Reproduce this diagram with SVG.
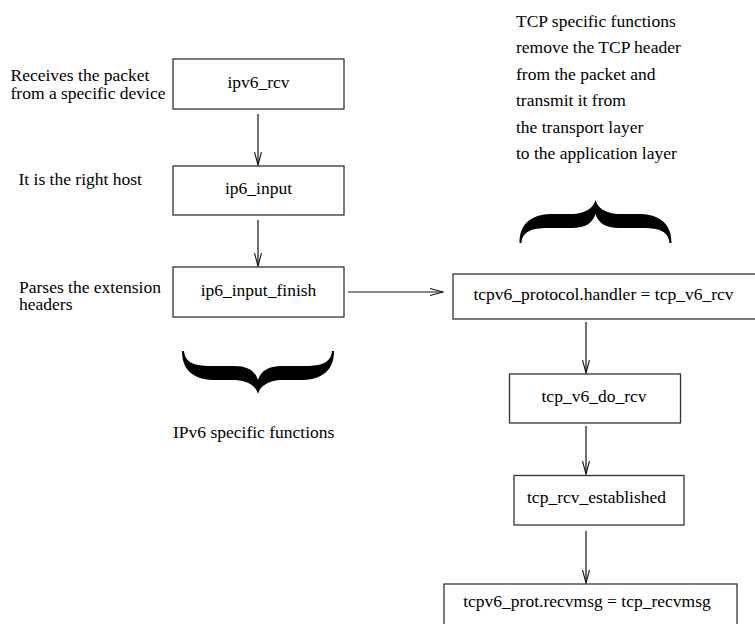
<svg xmlns="http://www.w3.org/2000/svg" width="755" height="624" viewBox="0 0 755 624">
<style>
text{font-family:"Liberation Serif","Times New Roman",serif;font-size:17.5px;fill:#000}
.c{text-anchor:middle}
.box{fill:#fff;stroke:#333;stroke-width:1.3}
.ln{fill:none;stroke:#111;stroke-width:1.2}
.br{fill:#000}
</style>
<defs>
<marker id="ah" markerUnits="userSpaceOnUse" viewBox="0 0 14 8" refX="13" refY="4" markerWidth="14" markerHeight="8" orient="auto">
<path d="M0,0.5 L13,4 L0,7.5" fill="none" stroke="#111" stroke-width="1.1"/>
</marker>
<path id="brace" d="M-76,0 C-76,17 -67,28 -45,29 L-22,29 C-10,30 -2,35 0,43 C2,35 10,30 22,29 L45,29 C67,28 76,17 76,0 L74,0 C73,11 65,15 47,15 L24,15 C10,15 3,20 0,29 C-3,20 -10,15 -24,15 L-47,15 C-65,15 -73,11 -74,0 Z"/>
</defs>
<rect width="755" height="624" fill="#fff"/>

<g id="connectors">
<line class="ln" x1="258" y1="114" x2="258" y2="165" marker-end="url(#ah)"/>
<line class="ln" x1="258" y1="220" x2="258" y2="266" marker-end="url(#ah)"/>
<line class="ln" x1="348" y1="292" x2="443" y2="292" marker-end="url(#ah)"/>
<line class="ln" x1="586" y1="322" x2="586" y2="373" marker-end="url(#ah)"/>
<line class="ln" x1="586" y1="426" x2="586" y2="474" marker-end="url(#ah)"/>
<line class="ln" x1="586" y1="531" x2="586" y2="583" marker-end="url(#ah)"/>
</g>

<g id="ipv6_rcv">
<rect class="box" x="173" y="59" width="171" height="50"/>
<text class="c" x="258.5" y="88">ipv6_rcv</text>
</g>
<g id="ip6_input">
<rect class="box" x="173" y="166" width="171" height="49"/>
<text class="c" x="258.5" y="194">ip6_input</text>
</g>
<g id="ip6_input_finish">
<rect class="box" x="173" y="267" width="171" height="50"/>
<text class="c" x="258.5" y="296">ip6_input_finish</text>
</g>
<g id="tcpv6_protocol_handler">
<rect class="box" x="453" y="274" width="304" height="45"/>
<text class="c" x="603.5" y="300">tcpv6_protocol.handler = tcp_v6_rcv</text>
</g>
<g id="tcp_v6_do_rcv">
<rect class="box" x="509.5" y="374" width="171" height="49"/>
<text class="c" x="594" y="402">tcp_v6_do_rcv</text>
</g>
<g id="tcp_rcv_established">
<rect class="box" x="514" y="475.5" width="170" height="49.5"/>
<text class="c" x="596.5" y="503">tcp_rcv_established</text>
</g>
<g id="tcpv6_prot_recvmsg">
<rect class="box" x="444" y="584" width="293" height="50"/>
<text class="c" x="587" y="607">tcpv6_prot.recvmsg = tcp_recvmsg</text>
</g>

<g id="notes_left">
<text x="10.5" y="81">Receives the packet</text>
<text x="10.5" y="98.5">from a specific device</text>
<text x="18.5" y="185">It is the right host</text>
<text x="19" y="292.5">Parses the extension</text>
<text x="19" y="310">headers</text>
</g>

<g id="ipv6_brace">
<use href="#brace" class="br" transform="translate(258,351)"/>
<text x="173" y="438">IPv6 specific functions</text>
</g>

<g id="tcp_brace">
<use href="#brace" class="br" transform="translate(595.5,243) scale(1,-1)"/>
<text x="516" y="26.5">TCP specific functions</text>
<text x="516" y="53">remove the TCP header</text>
<text x="516" y="79.5">from the packet and</text>
<text x="516" y="106">transmit it from</text>
<text x="516" y="132.5">the transport layer</text>
<text x="516" y="159">to the application layer</text>
</g>
</svg>
